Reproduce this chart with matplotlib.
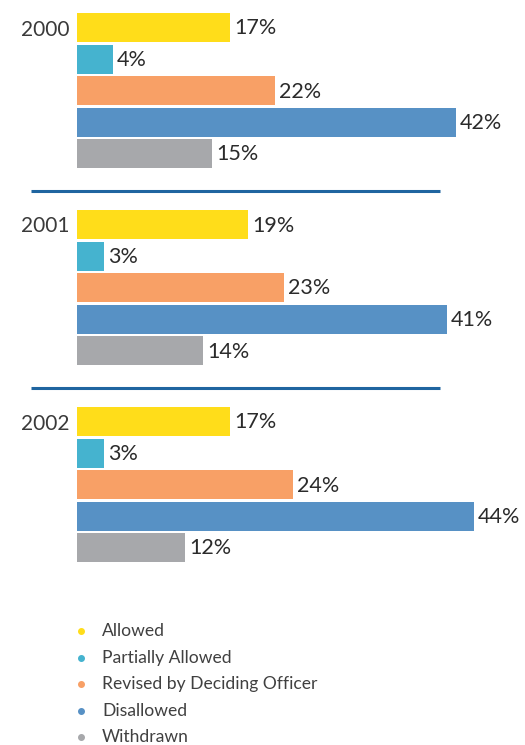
import matplotlib
matplotlib.use("Agg")
import matplotlib.pyplot as plt

years = ["2000", "2001", "2002"]
categories = ["Allowed", "Partially Allowed", "Revised by Deciding Officer", "Disallowed", "Withdrawn"]
values_2000 = [17, 4, 22, 42, 15]
values_2001 = [19, 3, 23, 41, 14]
values_2002 = [17, 3, 24, 44, 12]
colors = ["#FFDD1A", "#45B3CF", "#F8A066", "#5791C5", "#A7A8AB"]

all_values = [values_2000, values_2001, values_2002]

W, H, DPI = 525, 745, 100
fig = plt.figure(figsize=(W / DPI, H / DPI), dpi=DPI)
ax = fig.add_axes([0, 0, 1, 1])
px_per_pct = 9.02
x0 = 77
ax.set_xlim(-x0 / px_per_pct, (W - x0) / px_per_pct)
ax.set_ylim(H, 0)
ax.axis("off")

font = "Lato"
group_top = 27.5
group_pitch = 197
bar_pitch = 31.5
bar_h = 29

def px2x(p):
    return (p - x0) / px_per_pct

for g, (yr, vals) in enumerate(zip(years, all_values)):
    base = group_top + g * group_pitch
    ys = [base + i * bar_pitch for i in range(len(vals))]
    ax.barh(ys, vals, height=bar_h, color=colors, left=0)
    for y, v in zip(ys, vals):
        ax.text(v + 4 / px_per_pct, y + 1, f"{v}%", va="center", ha="left",
                fontsize=15.5, color="#2b2b2b", family=font)
    ax.text(px2x(70), base + 2, yr, va="center", ha="right", fontsize=15,
            color="#3a3a3a", family=font)
    if g < len(years) - 1:
        ly = base + 4 * bar_pitch + 37.5
        ax.plot([px2x(31), px2x(440)], [ly, ly], color="#1F65A0", lw=2.2,
                solid_capstyle="butt")

leg_top = 631
leg_step = 26.5
for i, (c, name) in enumerate(zip(colors, categories)):
    y = leg_top + i * leg_step
    ax.plot([px2x(81)], [y], marker="o", markersize=4, color=c, linestyle="none")
    ax.text(px2x(102), y, name, va="center", ha="left", fontsize=12.6,
            color="#404040", family=font)

fig.savefig("out.png", dpi=DPI)
